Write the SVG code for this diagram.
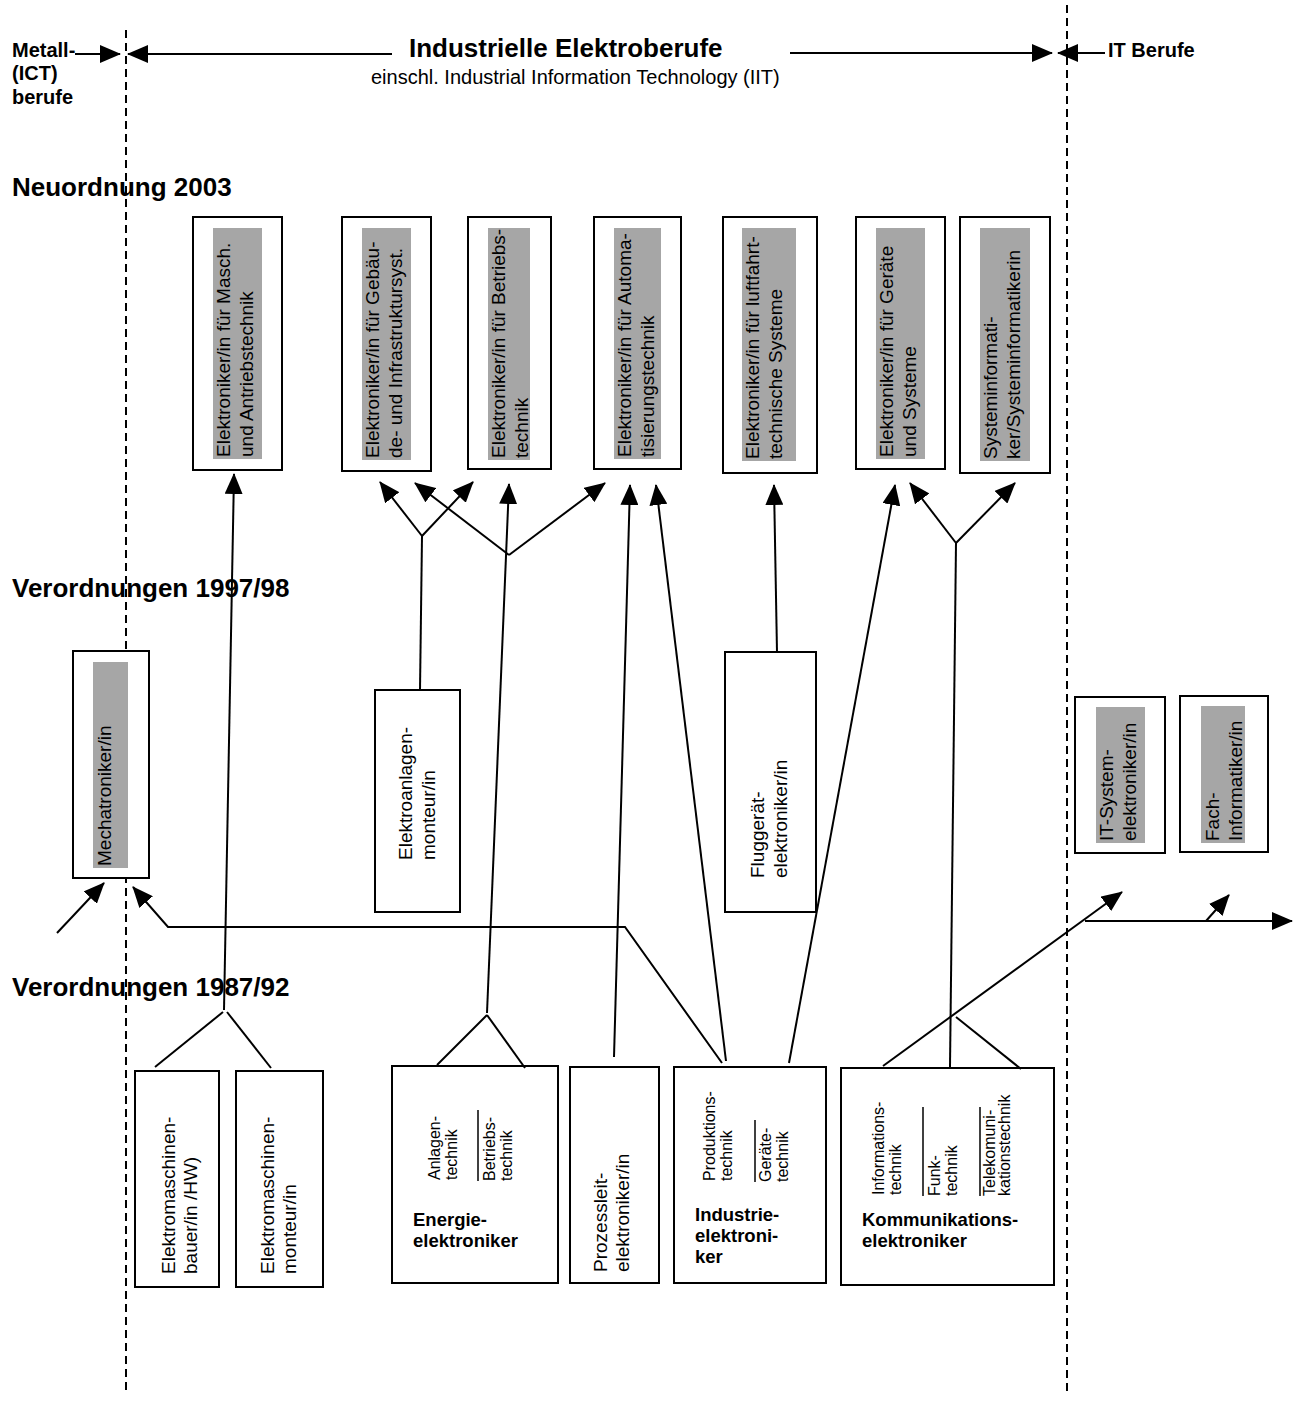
<svg xmlns="http://www.w3.org/2000/svg" width="1298" height="1412" viewBox="0 0 1298 1412">
<defs>
<marker id="ah" markerUnits="userSpaceOnUse" markerWidth="21" markerHeight="18" viewBox="0 0 21 18" refX="20" refY="9" orient="auto"><path d="M0,0 L21,9 L0,18 z" fill="#000"/></marker>
<style>
text{font-family:"Liberation Sans",Arial,sans-serif;fill:#000}
.hb{font-size:20px;font-weight:bold}
.title{font-size:26px;font-weight:bold}
.sub{font-size:20px}
.vt{font-size:19px}
.sm{font-size:16px}
.bl{font-size:18.5px;font-weight:bold}
.box{fill:#fff;stroke:#000;stroke-width:2}
.shade{fill:#a6a6a6;stroke:none}
.sep{stroke:#000;stroke-width:1.5;fill:none}
.c{stroke:#000;stroke-width:2;fill:none}
.a{stroke:#000;stroke-width:2;fill:none;marker-end:url(#ah)}
.dash{stroke:#000;stroke-width:2;stroke-dasharray:8,5;fill:none}
</style>
</defs>
<rect width="1298" height="1412" fill="#fff"/>

<g id="labels">
<text class="hb" x="12" y="57">Metall-</text>
<text class="hb" x="12" y="80">(ICT)</text>
<text class="hb" x="12" y="104">berufe</text>
<text class="title" x="409" y="57">Industrielle Elektroberufe</text>
<text class="sub" x="371" y="84">einschl. Industrial Information Technology (IIT)</text>
<text class="hb" x="1108" y="57">IT Berufe</text>
<text class="title" x="12" y="196">Neuordnung 2003</text>
<text class="title" x="12" y="597">Verordnungen 1997/98</text>
<text class="title" x="12" y="996">Verordnungen 1987/92</text>
</g>

<g id="dividers">
<path class="dash" d="M126,30 L126,1392"/>
<path class="dash" d="M1067,5 L1067,1392"/>
</g>

<g id="n-masch">
<rect class="box" x="193" y="217" width="89" height="253"/>
<rect class="shade" x="213" y="228" width="49" height="231"/>
<text class="vt" transform="translate(230,457) rotate(-90)"><tspan x="0" y="0">Elektroniker/in für Masch.</tspan><tspan x="0" y="23">und Antriebstechnik</tspan></text>
</g>
<g id="n-gebaeude">
<rect class="box" x="342" y="217" width="89" height="254"/>
<rect class="shade" x="362" y="228" width="49" height="232"/>
<text class="vt" transform="translate(379,458) rotate(-90)"><tspan x="0" y="0">Elektroniker/in für Gebäu-</tspan><tspan x="0" y="23">de- und Infrastruktursyst.</tspan></text>
</g>
<g id="n-betrieb">
<rect class="box" x="468" y="217" width="83" height="252"/>
<rect class="shade" x="488" y="228" width="42" height="232"/>
<text class="vt" transform="translate(505,458) rotate(-90)"><tspan x="0" y="0">Elektroniker/in für Betriebs-</tspan><tspan x="0" y="23">technik</tspan></text>
</g>
<g id="n-automat">
<rect class="box" x="594" y="217" width="87" height="252"/>
<rect class="shade" x="614" y="228" width="47" height="231"/>
<text class="vt" transform="translate(631,457) rotate(-90)"><tspan x="0" y="0">Elektroniker/in für Automa-</tspan><tspan x="0" y="23">tisierungstechnik</tspan></text>
</g>
<g id="n-luftfahrt">
<rect class="box" x="723" y="217" width="94" height="256"/>
<rect class="shade" x="742" y="228" width="54" height="233"/>
<text class="vt" transform="translate(759,459) rotate(-90)"><tspan x="0" y="0">Elektroniker/in für luftfahrt-</tspan><tspan x="0" y="23">technische Systeme</tspan></text>
</g>
<g id="n-geraete">
<rect class="box" x="856" y="217" width="89" height="252"/>
<rect class="shade" x="876" y="228" width="49" height="231"/>
<text class="vt" transform="translate(893,457) rotate(-90)"><tspan x="0" y="0">Elektroniker/in für Geräte</tspan><tspan x="0" y="23">und Systeme</tspan></text>
</g>
<g id="n-sysinf">
<rect class="box" x="960" y="217" width="90" height="256"/>
<rect class="shade" x="980" y="228" width="50" height="233"/>
<text class="vt" transform="translate(997,459) rotate(-90)"><tspan x="0" y="0">Systeminformati-</tspan><tspan x="0" y="23">ker/Systeminformatikerin</tspan></text>
</g>

<g id="n-mechatroniker">
<rect class="box" x="73" y="651" width="76" height="227"/>
<rect class="shade" x="93" y="662" width="35" height="206"/>
<text class="vt" transform="translate(111,866) rotate(-90)">Mechatroniker/in</text>
</g>
<g id="n-elektroanlagen">
<rect class="box" x="375" y="690" width="85" height="222"/>
<text class="vt" transform="translate(412,860) rotate(-90)"><tspan x="0" y="0">Elektroanlagen-</tspan><tspan x="0" y="23">monteur/in</tspan></text>
</g>
<g id="n-fluggeraet">
<rect class="box" x="725" y="652" width="91" height="260"/>
<text class="vt" transform="translate(764,878) rotate(-90)"><tspan x="0" y="0">Fluggerät-</tspan><tspan x="0" y="23">elektroniker/in</tspan></text>
</g>
<g id="n-itsystem">
<rect class="box" x="1075" y="697" width="90" height="156"/>
<rect class="shade" x="1096" y="707" width="49" height="136"/>
<text class="vt" transform="translate(1113,841) rotate(-90)"><tspan x="0" y="0">IT-System-</tspan><tspan x="0" y="23">elektroniker/in</tspan></text>
</g>
<g id="n-fachinf">
<rect class="box" x="1180" y="696" width="88" height="156"/>
<rect class="shade" x="1201" y="706" width="44" height="137"/>
<text class="vt" transform="translate(1219,841) rotate(-90)"><tspan x="0" y="0">Fach-</tspan><tspan x="0" y="23">Informatiker/in</tspan></text>
</g>

<g id="n-emb">
<rect class="box" x="135" y="1071" width="84" height="216"/>
<text class="vt" transform="translate(175,1274) rotate(-90)"><tspan x="0" y="0">Elektromaschinen-</tspan><tspan x="0" y="22">bauer/in /HW)</tspan></text>
</g>
<g id="n-emm">
<rect class="box" x="236" y="1071" width="87" height="216"/>
<text class="vt" transform="translate(274,1274) rotate(-90)"><tspan x="0" y="0">Elektromaschinen-</tspan><tspan x="0" y="22">monteur/in</tspan></text>
</g>
<g id="n-energie">
<rect class="box" x="392" y="1066" width="166" height="217"/>
<text class="sm" transform="translate(440,1180) rotate(-90)"><tspan x="0" y="0">Anlagen-</tspan><tspan x="0" y="17">technik</tspan></text>
<path class="sep" d="M478,1110 L478,1181"/>
<text class="sm" transform="translate(495,1181) rotate(-90)"><tspan x="0" y="0">Betriebs-</tspan><tspan x="0" y="17">technik</tspan></text>
<text class="bl" x="413" y="1226">Energie-</text>
<text class="bl" x="413" y="1247">elektroniker</text>
</g>
<g id="n-prozessleit">
<rect class="box" x="570" y="1067" width="89" height="216"/>
<text class="vt" transform="translate(607,1272) rotate(-90)"><tspan x="0" y="0">Prozessleit-</tspan><tspan x="0" y="22">elektroniker/in</tspan></text>
</g>
<g id="n-industrie">
<rect class="box" x="674" y="1067" width="152" height="216"/>
<text class="sm" transform="translate(715,1181) rotate(-90)"><tspan x="0" y="0">Produktions-</tspan><tspan x="0" y="17">technik</tspan></text>
<path class="sep" d="M755,1120 L755,1182"/>
<text class="sm" transform="translate(771,1182) rotate(-90)"><tspan x="0" y="0">Geräte-</tspan><tspan x="0" y="17">technik</tspan></text>
<text class="bl" x="695" y="1221">Industrie-</text>
<text class="bl" x="695" y="1242">elektroni-</text>
<text class="bl" x="695" y="1263">ker</text>
</g>
<g id="n-kommunikation">
<rect class="box" x="841" y="1068" width="213" height="217"/>
<text class="sm" transform="translate(884,1195) rotate(-90)"><tspan x="0" y="0">Informations-</tspan><tspan x="0" y="17">technik</tspan></text>
<path class="sep" d="M923,1107 L923,1196"/>
<text class="sm" transform="translate(940,1196) rotate(-90)"><tspan x="0" y="0">Funk-</tspan><tspan x="0" y="17">technik</tspan></text>
<path class="sep" d="M980,1107 L980,1196"/>
<text class="sm" transform="translate(995,1196) rotate(-90)"><tspan x="0" y="0">Telekomuni-</tspan><tspan x="0" y="15">kationstechnik</tspan></text>
<text class="bl" x="862" y="1226">Kommunikations-</text>
<text class="bl" x="862" y="1247">elektroniker</text>
</g>

<g id="connectors">
<path class="a" d="M75,54 L120,54"/>
<path class="a" d="M392,54 L128,54"/>
<path class="a" d="M790,53 L1052,53"/>
<path class="a" d="M1105,53 L1058,53"/>

<path class="a" d="M224,1010 L234,474"/>
<path class="c" d="M223,1012 L155,1067"/>
<path class="c" d="M227,1012 L271,1068"/>

<path class="c" d="M420,690 L422,536"/>
<path class="a" d="M422,536 L380,482"/>
<path class="a" d="M422,536 L473,482"/>

<path class="a" d="M487,1013 L509,484"/>
<path class="c" d="M487,1015 L437,1065"/>
<path class="c" d="M487,1015 L525,1068"/>
<path class="a" d="M509,555 L415,483"/>
<path class="a" d="M509,555 L605,483"/>

<path class="a" d="M614,1057 L630,485"/>
<path class="a" d="M726,1061 L656,485"/>
<path class="a" d="M777,652 L774,485"/>
<path class="a" d="M789,1063 L895,485"/>

<path class="c" d="M950,1067 L956,543"/>
<path class="a" d="M956,543 L910,483"/>
<path class="a" d="M956,543 L1015,483"/>

<path class="a" d="M722,1063 L625,927 L168,927 L133,887"/>
<path class="a" d="M57,933 L104,883"/>

<path class="a" d="M883,1066 L1122,892"/>
<path class="c" d="M956,1017 L1021,1069"/>
<path class="a" d="M1085,921 L1292,921"/>
<path class="a" d="M1206,921 L1229,895"/>
</g>
</svg>
